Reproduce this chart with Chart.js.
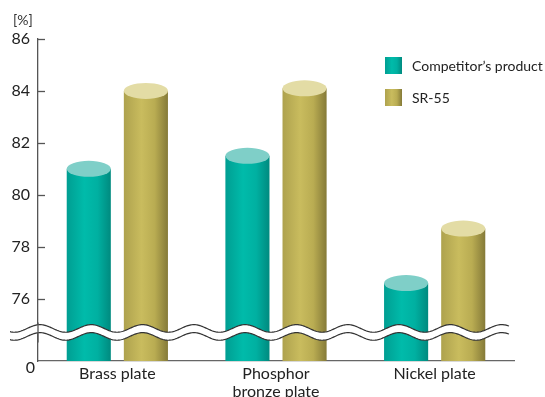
<!DOCTYPE html>
<html>
<head>
<meta charset="utf-8">
<script src="https://cdn.jsdelivr.net/npm/chart.js@4.4.0/dist/chart.umd.min.js"></script>
<style>
html, body { margin: 0; padding: 0; background: #fff; }
#wrap { width: 545px; height: 397px; }
</style>
</head>
<body>
<div id="wrap"><canvas id="chart"></canvas></div>
<script>
const categories  = ['Brass plate', ['Phosphor', 'bronze plate'], 'Nickel plate'];
const seriesNames = ['Competitor’s product', 'SR-55'];
const competitor  = [81.0, 81.5, 76.6];
const sr55        = [84.0, 84.1, 78.7];
const yTicks      = [76, 78, 80, 82, 84, 86];
const yBase       = 73.6;   // bottom of the broken axis, labelled "0"
const breakValue  = 74.7;   // where the wavy break crosses the chart

const FONT = 'Lato, "Noto Sans", sans-serif';
const looks = [
    { stops: ['#009e92', '#00bbaa', '#00b0a1', '#008a7f'], top: '#7fcfc8' },
    { stops: ['#aea24e', '#c9bc5e', '#b9ac52', '#857a38'], top: '#e3dca5' }
];

function bodyGradient(ctx, left, w, stops) {
    const g = ctx.createLinearGradient(left, 0, left + w, 0);
    g.addColorStop(0, stops[0]);
    g.addColorStop(0.4, stops[1]);
    g.addColorStop(0.7, stops[2]);
    g.addColorStop(1, stops[3]);
    return g;
}

const cylinders = {
    id: 'cylinders',
    afterDatasetsDraw(chart) {
        const { ctx, chartArea, scales } = chart;
        const bottom = scales.y.getPixelForValue(yBase);
        ctx.save();
        chart.data.datasets.forEach((ds, di) => {
            const look = looks[di];
            chart.getDatasetMeta(di).data.forEach(bar => {
                const w = bar.width, left = bar.x - w / 2;
                ctx.fillStyle = bodyGradient(ctx, left, w, look.stops);
                ctx.fillRect(left, bar.y, w, bottom - bar.y);
                ctx.beginPath();
                ctx.ellipse(bar.x, bar.y, w / 2, 8, 0, 0, Math.PI * 2);
                ctx.fillStyle = look.top;
                ctx.fill();
            });
        });

        // wavy axis break
        const yc = scales.y.getPixelForValue(breakValue);
        const x0 = 10, x1 = 509, per = 51.3, amp = 3.8, half = 4;
        const wave = (x, off) => yc + off + amp * Math.sin((x - 40) / per * Math.PI * 2 - Math.PI / 2);
        ctx.beginPath();
        for (let x = x0; x <= x1; x++) ctx.lineTo(x, wave(x, -half));
        for (let x = x1; x >= x0; x--) ctx.lineTo(x, wave(x, half));
        ctx.closePath();
        ctx.fillStyle = '#fff';
        ctx.fill();
        ctx.strokeStyle = '#333';
        ctx.lineWidth = 1.2;
        [-half, half].forEach(off => {
            ctx.beginPath();
            for (let x = x0; x <= x1; x++) ctx.lineTo(x, wave(x, off));
            ctx.stroke();
        });

        // the y axis line runs on through the break
        ctx.strokeStyle = '#555';
        ctx.lineWidth = 1.3;
        ctx.beginPath();
        ctx.moveTo(chartArea.left, yc - 10);
        ctx.lineTo(chartArea.left, yc + 10);
        ctx.stroke();

        // inward tick marks
        yTicks.forEach(v => {
            const y = Math.round(scales.y.getPixelForValue(v)) + 0.5;
            ctx.beginPath();
            ctx.moveTo(chartArea.left, y);
            ctx.lineTo(chartArea.left + 7, y);
            ctx.stroke();
        });

        // "0" under the break, unit, legend
        ctx.fillStyle = '#222';
        ctx.font = '16px ' + FONT;
        ctx.textAlign = 'right';
        ctx.textBaseline = 'middle';
        ctx.fillText('0', chartArea.left - 3, bottom + 7);

        ctx.font = '14px ' + FONT;
        ctx.textAlign = 'left';
        ctx.fillStyle = '#333';
        ctx.fillText('[%]', 13, 20);

        seriesNames.forEach((name, i) => {
            const y = 57 + i * 32;
            ctx.fillStyle = bodyGradient(ctx, 385, 17, looks[i].stops);
            ctx.fillRect(385, y, 17, 17);
            ctx.fillStyle = '#222';
            ctx.fillText(name, 412, y + 9);
        });
        ctx.restore();
    }
};

new Chart(document.getElementById('chart'), {
    type: 'bar',
    data: {
        labels: categories,
        datasets: [
            { label: seriesNames[0], data: competitor, backgroundColor: 'rgba(0,0,0,0)' },
            { label: seriesNames[1], data: sr55, backgroundColor: 'rgba(0,0,0,0)' }
        ]
    },
    options: {
        responsive: true,
        maintainAspectRatio: false,
        animation: false,
        categoryPercentage: 0.72,
        barPercentage: 0.772,
        layout: { padding: { top: 39, right: 31, left: 0, bottom: 0 } },
        plugins: { legend: { display: false }, tooltip: { enabled: false } },
        scales: {
            x: {
                afterFit: s => { s.height = 36; },
                grid: { display: false, drawTicks: false },
                border: { display: true, color: '#666', width: 1.3 },
                ticks: { color: '#222', font: { family: FONT, size: 16, lineHeight: 1.1 }, padding: 4 }
            },
            y: {
                min: yBase, max: 86,
                afterFit: s => { s.width = 38; },
                afterBuildTicks: s => { s.ticks = yTicks.map(v => ({ value: v })); },
                grid: { display: false, drawTicks: false },
                border: { display: true, color: '#555', width: 1.3 },
                ticks: { color: '#222', padding: 8, font: { family: FONT, size: 16 } }
            }
        }
    },
    plugins: [cylinders]
});
</script>
</body>
</html>
